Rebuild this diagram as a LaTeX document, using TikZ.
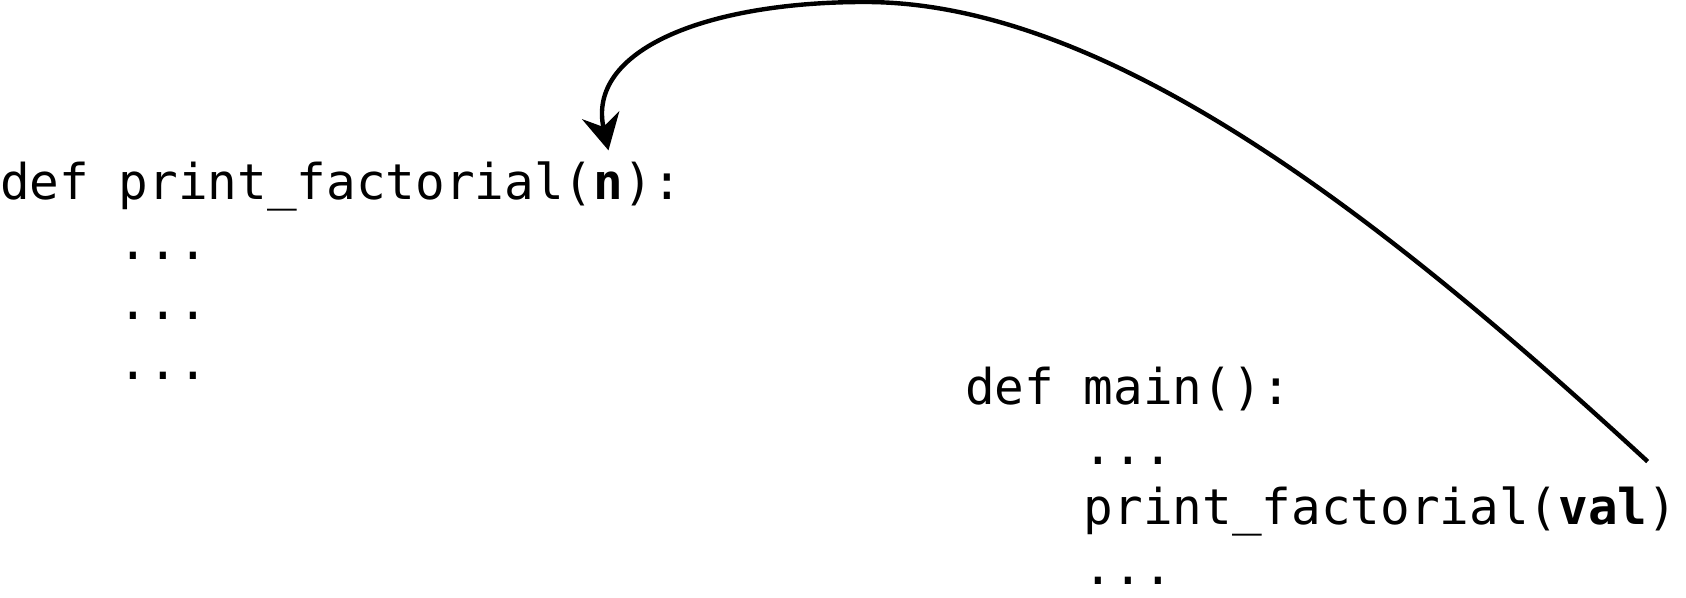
\documentclass[tikz,border=0pt]{standalone}
\usepackage{fontspec}
\usepackage{tikz}
\usetikzlibrary{arrows.meta}
\newfontfamily\codefont{DejaVu Sans Mono}
\tikzset{
  code/.style={font=\codefont\fontsize{24.65pt}{30pt}\selectfont,inner sep=0pt,outer sep=0pt,anchor=base west},
  call/.style={line width=2.2pt,-{Stealth[length=18pt,width=19pt,inset=6pt]}}
}
\begin{document}
\begin{tikzpicture}[x=0.5pt,y=0.5pt]
  \useasboundingbox (0,0) rectangle (1686,598);
  \node [code] (fdef) at (0,398) {def print\_factorial(};
  \node [code] (n) at (fdef.base east) {\textbf{n}};
  \node [code] (fend) at (n.base east) {):};
  \foreach \i in {1,2,3}
    \node [code] (fdots\i) at (118.7,398-60*\i) {...};
  \node [code] (mdef) at (965,193) {def main():};
  \node [code] (mdots1) at (1083.7,133) {...};
  \node [code] (mcall) at (1083.7,73) {print\_factorial(};
  \node [code] (val) at (mcall.base east) {\textbf{val}};
  \node [code] (mend) at (val.base east) {)};
  \node [code] (mdots2) at (1083.7,13) {...};
  \coordinate (top) at (865,596);
  \draw [call] ([yshift=13pt]val.north east)
    .. controls +(-250,230) and +(250,0) .. (top)
    .. controls +(-160,0) and +(-22,100) .. ([yshift=11pt]n.north);
\end{tikzpicture}
\end{document}
